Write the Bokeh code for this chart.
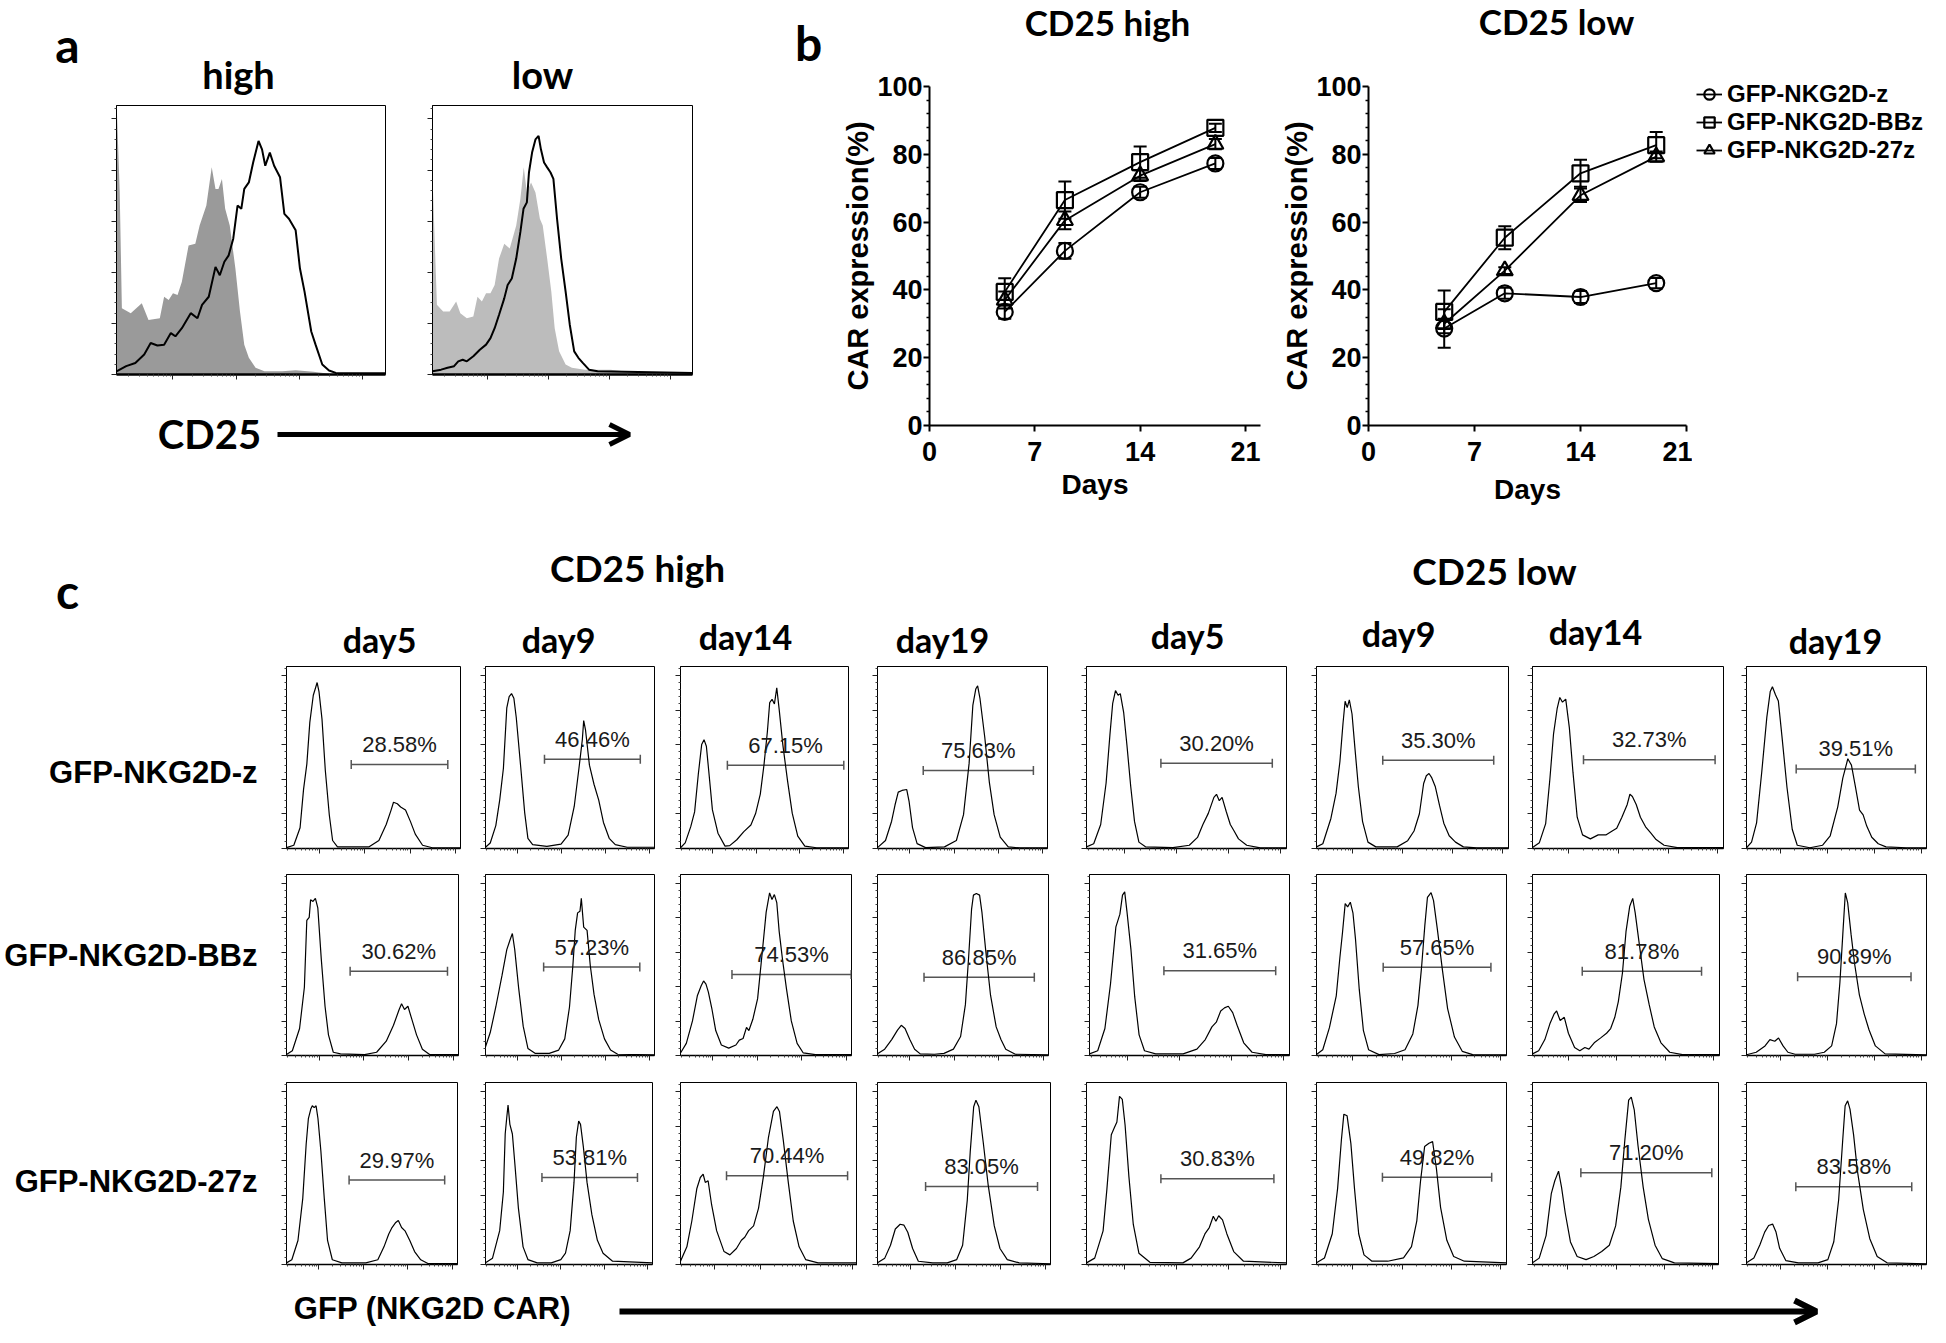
import math
from bokeh.plotting import figure
from bokeh.layouts import row, column, Spacer
from bokeh.models import (Range1d, LinearAxis, FixedTicker, Whisker, TeeHead, Arrow,
                          OpenHead, ColumnDataSource, Legend, LegendItem, CustomLabelingPolicy)
from bokeh.core.properties import value
from bokeh.embed import file_html
from bokeh.resources import INLINE

FONT_ARIAL = "Liberation Sans"
FONT_CAL = "Lato"

# ================= DATA =================
# ---- panel a: CD25 histograms (x: % of axis width, y: % of max count) ----
a_hi_iso_x = [0,0.2,1.2,2.0,5.3,9.4,11.9,16.1,17.7,19.4,21.0,22.7,24.3,26.8,29.3,30.9,33.4,35.4,36.8,37.9,39.2,40.4,42.1,44.2,45.9,47.5,49.2,51.7,55.0,61.6,66.6,73.2,79.8,100]
a_hi_iso_y = [0,96.7,67.7,24.6,22.8,26.5,20.3,20.9,28.9,27.7,30.2,29.6,34.5,48.0,48.6,55.4,62.8,77.0,69.0,69.0,72.7,61.6,55.4,39.4,23.4,11.1,6.2,2.5,1.2,1.2,1.6,1.0,0.2,0]
a_hi_cd25_x = [0,3.6,7.0,10.3,12.7,15.2,17.7,20.2,21.9,24.3,27.6,30.1,31.8,34.3,36.8,38.4,40.1,41.7,43.4,45.0,46.4,47.5,49.2,50.8,52.8,54.1,55.3,57.0,58.6,60.8,62.4,64.1,66.6,68.2,69.9,72.4,74.0,76.5,79.0,81.5,100]
a_hi_cd25_y = [1.2,3.1,4.3,7.4,11.7,10.8,11.1,15.4,14.2,17.2,22.8,20.9,25.9,28.9,40.0,36.9,41.9,44.3,50.5,62.8,61.6,69.0,71.4,78.8,86.8,83.7,77.6,82.5,77.6,73.3,59.7,57.9,53.6,39.4,30.8,16.0,11.1,3.7,1.5,0.6,0.5]
a_lo_iso_x = [0,0.2,1.7,4.1,6.6,9.1,10.7,13.2,15.7,17.3,19.0,20.6,22.3,23.9,25.6,27.6,29.7,32.2,33.8,35.1,36.3,37.9,39.6,41.3,42.4,44.1,45.7,47.0,48.7,51.2,53.6,58.6,63.5,68.5,75.1,100]
a_lo_iso_y = [0,68.3,25.9,23.4,23.4,27.1,22.8,20.9,21.6,28.9,27.1,30.2,30.2,33.3,43.1,48.6,46.8,55.4,65.3,77.0,67.7,71.4,67.7,57.9,55.4,43.1,30.8,17.2,8.6,3.7,2.5,1.8,1.8,1.8,1.0,0]
a_lo_cd25_x = [0,3.3,5.8,8.3,9.9,11.6,13.2,15.7,18.2,20.6,22.3,23.9,25.6,27.6,28.9,30.5,32.2,33.8,35.0,36.3,37.1,38.3,39.6,40.8,41.7,42.9,44.1,45.4,46.5,47.9,49.5,51.2,52.8,54.5,56.1,57.8,60.2,63.5,100]
a_lo_cd25_y = [1.2,1.8,2.5,3.1,4.9,5.5,4.9,6.8,9.2,11.1,13.5,17.2,22.2,28.3,33.3,35.7,43.1,53.0,61.6,64.0,75.1,82.5,87.4,88.7,83.7,78.8,77.0,75.1,72.7,57.9,43.1,30.8,18.5,8.6,6.2,4.3,1.8,1.2,0.6]

# ---- panel b: CAR expression (%) ----
days = [5, 9, 14, 19]
series_names = ["GFP-NKG2D-z", "GFP-NKG2D-BBz", "GFP-NKG2D-27z"]
hi_z = [33.5, 51.5, 68.8, 77.3]
hi_z_err = [2.0, 2.3, 1.6, 1.6]
hi_bbz = [39.4, 66.5, 77.7, 87.8]
hi_bbz_err = [4.0, 5.5, 4.6, 1.2]
hi_27z = [37.0, 60.5, 73.7, 83.0]
hi_27z_err = [2.5, 2.6, 1.6, 1.5]
lo_z = [28.6, 39.0, 37.9, 42.0]
lo_z_err = [5.7, 1.6, 1.8, 1.5]
lo_bbz = [33.5, 55.4, 74.4, 82.7]
lo_bbz_err = [6.3, 3.4, 4.0, 3.9]
lo_27z = [30.0, 45.7, 67.9, 79.3]
lo_27z_err = [1.5, 1.0, 2.0, 1.5]
day_ticks = [0, 7, 14, 21]
pct_ticks = [0, 20, 40, 60, 80, 100]
markers = ["circle", "square", "triangle"]

# ---- panel c: GFP histograms (x: % of axis width, y: % of box height) ----
c_days = ["day5", "day9", "day14", "day19"]
c_rows = ["GFP-NKG2D-z", "GFP-NKG2D-BBz", "GFP-NKG2D-27z"]
# CD25 high, GFP-NKG2D-z
hz5_x = [0,4.2,7.8,9.8,11.7,13.4,15.4,16.8,17.6,18.7,20.4,22.3,24.6,26.5,29.3,47.5,53.1,57.3,60.1,61.5,63.7,65.6,68.4,71.2,74.0,78.2,83.8,100]
hz5_y = [0.5,1.8,11.4,32.5,46.5,69.3,84.2,88.6,91.2,86.0,71.1,43.0,18.4,4.4,0.9,0.9,4.4,13.2,21.1,25.4,24.6,22.8,21.1,14.9,7.9,1.8,0.4,0.4]
hz9_x = [0,2.8,6.1,8.4,10.6,12.6,14.0,15.4,16.8,18.2,20.9,23.2,25.1,27.9,36.3,44.7,48.9,52.5,55.3,57.3,58.1,59.2,61.5,64.2,67.0,69.8,73.2,76.8,83.8,100]
hz9_y = [0.7,3.0,12.6,26.6,44.1,77.3,83.4,85.1,82.5,72.0,44.1,19.6,5.6,2.1,1.2,2.4,7.3,23.1,44.1,59.8,70.3,65.0,45.8,35.3,26.6,14.3,5.6,2.1,0.7,0.7]
hz14_x = [0,2.8,6.1,8.4,10.6,12.6,14.0,15.4,16.8,19.0,22.3,26.5,29.3,33.5,37.7,41.9,44.7,47.5,49.7,51.7,53.1,54.5,55.9,57.3,58.7,60.9,63.7,66.5,69.8,74.0,81.0,100]
hz14_y = [0.4,3.1,12.0,20.1,40.8,57.1,59.8,56.2,42.7,21.2,8.4,1.3,1.6,4.8,9.3,12.9,19.2,29.9,46.0,64.0,80.2,82.0,79.4,88.3,76.7,57.1,37.3,19.4,6.8,1.3,0.4,0.4]
hz19_x = [0,4.7,8.3,10.3,12.2,14.4,17.2,18.6,20.6,23.3,28.3,39.4,46.4,50.6,53.9,56.1,57.8,58.9,60.3,63.1,65.8,68.6,72.2,76.9,83.9,100]
hz19_y = [0.5,4.4,15.0,23.9,31.0,31.9,32.4,25.7,11.5,2.7,0.5,0.9,4.4,18.6,46.9,78.8,87.6,89.4,82.3,61.1,36.3,18.6,6.2,0.9,0.3,0.3]
# CD25 high, GFP-NKG2D-BBz
hb5_x = [0,3.4,7.6,10.4,11.8,13.2,14.0,15.4,16.8,18.2,20.2,22.4,24.4,27.2,31.4,45.4,52.4,58.0,62.2,65.5,66.9,68.6,70.6,72.8,75.6,79.0,83.2,100]
hb5_y = [0.5,2.6,14.9,37.7,74.6,76.3,86.0,85.1,86.8,81.6,53.5,27.2,11.4,1.8,0.9,0.5,1.8,7.9,16.7,25.4,28.6,25.4,27.2,20.2,11.4,3.5,0.5,0.5]
hb9_x = [0,2.8,6.1,9.8,12.6,14.5,15.9,17.3,19.6,22.3,25.1,29.3,37.7,43.3,46.9,49.7,51.7,53.1,54.5,55.9,56.7,58.1,60.1,62.0,64.2,67.0,70.4,74.0,78.2,100]
hb9_y = [4.8,12.7,26.8,44.4,58.5,63.8,67.4,58.5,37.4,16.2,3.9,1.2,1.2,3.0,9.2,26.8,49.7,69.1,78.8,79.7,86.8,70.9,69.1,49.7,33.9,19.8,9.2,3.0,0.7,0.4]
hb14_x = [0,3.4,7.0,9.9,12.1,13.5,14.9,16.3,18.3,20.6,23.9,28.2,32.4,34.4,36.6,38.6,40.0,42.3,45.1,47.9,50.1,52.1,53.5,54.9,56.3,57.7,59.7,62.0,64.8,68.2,71.8,78.9,100]
hb14_y = [1.4,6.7,19.1,33.2,38.5,41.2,39.4,35.0,26.1,13.8,5.8,4.1,5.8,8.5,9.4,15.5,13.8,20.0,31.4,57.9,79.2,89.8,86.2,88.9,84.5,68.6,52.7,36.7,19.1,6.7,1.4,0.5,0.5]
hb19_x = [0,4.2,8.3,11.7,13.9,16.1,18.9,21.7,25.0,33.3,38.9,44.4,48.6,51.4,53.3,55.0,56.1,57.8,59.7,61.1,63.3,66.1,69.4,72.2,75.0,80.6,100]
hb19_y = [0.9,3.5,8.8,14.0,16.7,14.9,8.8,3.5,0.9,0.7,1.2,3.5,10.5,28.1,54.4,80.7,88.6,89.5,88.6,78.9,57.9,33.3,15.8,8.8,3.5,0.7,0.4]
# CD25 high, GFP-NKG2D-27z
ht5_x = [0,3.1,6.7,9.5,11.5,12.8,14.2,15.1,16.2,17.3,18.4,20.1,22.1,24.0,26.8,32.4,46.4,53.4,57.0,59.8,61.7,63.7,65.4,67.3,69.3,72.1,74.9,78.5,82.7,100]
ht5_y = [0.9,2.6,13.2,36.2,66.1,80.2,85.4,87.2,86.2,87.2,80.2,62.4,36.2,13.2,2.6,0.9,0.9,2.6,9.7,16.8,20.3,22.9,24.2,20.3,18.5,13.2,7.1,2.6,0.5,0.5]
ht9_x = [0,4.2,8.5,10.7,11.8,12.7,13.5,14.6,16.1,17.7,19.7,22.5,25.4,31.0,39.4,45.1,47.9,50.7,53.0,54.4,55.8,56.9,58.6,60.8,63.7,67.0,70.4,76.1,100]
ht9_y = [0.9,3.5,18.6,39.8,71.7,80.5,87.6,77.0,71.7,54.0,31.0,9.7,2.7,0.9,0.9,2.7,6.2,18.6,45.1,69.9,78.8,77.0,64.6,45.1,27.4,13.3,6.2,1.8,0.9]
ht14_x = [0,3.6,6.4,9.2,11.2,12.8,14.0,15.6,17.6,20.4,24.6,27.9,31.6,34.4,36.3,38.5,41.3,44.1,46.9,49.7,52.5,54.5,55.9,58.1,60.9,63.7,67.0,70.7,77.7,100]
ht14_y = [1.8,9.7,23.9,41.6,47.8,49.6,45.1,46.0,32.7,18.6,7.1,5.3,8.8,13.3,15.0,18.6,21.2,31.0,48.7,69.9,84.1,86.7,84.1,68.1,45.1,23.9,9.7,2.7,0.9,0.9]
ht19_x = [0,4.2,7.5,10.3,13.1,15.3,17.5,20.3,23.6,31.9,40.3,45.8,49.2,51.9,53.6,55.6,56.9,58.6,61.1,63.9,67.5,70.8,75.0,81.9,100]
ht19_y = [0.9,3.5,10.6,19.5,22.1,21.6,17.7,8.8,1.8,0.9,0.9,2.7,10.6,35.4,61.9,86.7,90.3,86.7,67.3,44.2,21.2,8.8,2.7,0.9,0.4]
# CD25 low, GFP-NKG2D-z
lz5_x = [0,3.6,7.1,9.8,11.7,13.1,14.5,15.8,16.9,18.6,20.2,22.1,24.0,26.2,29.5,43.2,51.4,55.5,58.2,60.9,63.7,65.0,66.4,67.8,69.9,71.9,73.8,76.0,80.1,86.9,100]
lz5_y = [0.9,2.6,13.2,36.0,62.3,79.8,86.8,84.2,85.1,74.6,57.0,34.2,14.9,3.5,0.9,0.5,1.8,6.1,13.2,19.3,28.1,29.8,26.3,28.1,20.2,13.2,9.6,5.3,1.8,0.3,0.3]
lz9_x = [0,3.3,7.5,10.2,12.2,13.8,14.9,16.0,17.1,18.5,19.9,21.8,24.0,26.8,30.9,42.0,47.5,50.8,53.6,55.8,57.2,58.6,59.9,61.9,64.1,66.3,69.1,72.4,76.5,83.4,100]
lz9_y = [0.9,2.6,16.5,30.4,47.8,68.7,80.9,77.4,81.7,73.9,56.5,33.9,14.8,3.5,0.9,0.9,4.3,9.6,19.1,35.7,40.0,41.2,39.1,33.9,23.5,13.9,7.0,3.5,0.9,0.3,0.3]
lz14_x = [0,3.6,6.9,9.1,11.0,12.9,14.3,15.7,17.4,19.3,21.2,23.4,26.2,30.3,34.4,38.6,41.3,44.1,46.8,49.6,51.0,52.3,54.3,56.5,59.2,62.0,64.7,68.9,75.8,100]
lz14_y = [0.5,3.2,13.7,38.2,62.8,76.8,83.0,80.4,82.1,66.3,41.8,17.2,7.5,5.3,7.5,7.5,9.3,11.1,17.2,24.2,29.8,28.6,24.2,17.2,11.9,8.4,4.9,1.8,0.5,0.5]
lz19_x = [0,2.8,5.6,8.5,11.3,13.2,14.4,16.1,17.7,19.7,22.5,25.4,28.2,35.2,42.3,46.5,50.7,53.5,56.3,58.3,60.6,62.8,64.8,66.8,69.6,73.2,77.5,88.7,100]
lz19_y = [0.4,3.5,14.1,42.3,72.2,86.3,88.9,84.5,81.0,61.6,33.5,10.6,1.8,0.4,1.8,7.0,22.9,38.7,49.3,45.8,33.5,21.1,18.5,12.3,6.2,2.6,0.9,0.4,0.4]
# CD25 low, GFP-NKG2D-BBz
lb5_x = [0,4.1,7.7,10.5,13.2,15.2,16.5,17.6,18.7,20.7,22.6,24.8,27.5,33.1,46.8,53.7,57.9,61.2,63.4,65.6,67.5,69.4,71.6,73.8,77.1,81.3,88.2,100]
lb5_y = [0.9,2.6,14.9,39.5,71.1,78.1,88.6,90.4,79.8,58.8,32.5,11.4,2.6,0.9,0.9,3.5,8.8,15.8,18.4,24.6,26.3,27.2,23.7,16.7,7.0,1.8,0.5,0.5]
lb9_x = [0,3.3,6.8,10.4,12.3,13.7,15.1,16.4,17.8,19.2,20.5,22.5,24.7,27.4,32.9,41.1,46.6,50.7,53.4,55.3,57.0,58.4,60.3,61.6,63.6,66.3,69.0,72.6,76.7,82.2,100]
lb9_y = [0.5,3.2,15.4,33.0,54.0,68.1,83.9,82.1,84.7,78.6,64.6,36.5,13.7,3.2,0.5,1.1,3.2,11.9,27.7,48.8,71.6,87.4,90.0,85.6,69.8,47.0,25.9,10.2,2.3,0.5,0.3]
lb14_x = [0,3.3,6.6,9.3,11.5,12.9,14.8,17.0,19.2,22.5,25.3,28.0,30.2,33.0,36.3,39.6,41.8,44.0,45.9,48.1,50.0,52.0,53.6,54.9,56.9,59.6,62.4,65.1,68.7,73.4,80.2,100]
lb14_y = [0.9,2.6,8.8,17.5,22.8,24.6,19.3,21.1,12.3,4.4,2.6,4.4,3.5,7.0,9.6,12.3,14.9,21.1,29.8,45.6,68.4,82.5,86.8,78.9,63.2,42.1,28.1,15.8,7.0,1.8,0.5,0.5]
lb19_x = [0,5.4,10.3,13.0,15.7,17.8,20.3,23.0,27.0,37.8,43.2,47.3,50.0,51.9,53.5,54.9,56.2,58.1,60.0,62.7,65.4,68.1,71.6,77.0,100]
lb19_y = [0.4,1.8,5.3,8.8,7.9,9.7,5.3,1.8,0.7,0.7,1.8,5.3,17.6,40.5,66.9,89.8,84.5,66.9,51.1,33.5,22.9,14.1,5.3,0.9,0.4]
# CD25 low, GFP-NKG2D-27z
lt5_x = [0,4.1,8.3,10.2,12.4,13.8,15.2,16.5,17.9,19.3,21.2,23.4,26.2,31.7,48.2,52.3,56.5,59.2,61.4,63.4,64.7,66.1,68.0,70.2,73.6,78.5,100]
lt5_y = [0.9,3.5,18.5,41.4,71.3,74.8,78.3,92.4,90.7,76.5,48.3,22.0,6.2,1.2,0.9,3.5,9.7,16.8,20.3,26.5,23.8,26.8,24.5,16.8,7.1,1.8,0.9]
lt9_x = [0,4.2,8.3,11.1,13.1,14.4,16.1,18.1,20.0,22.2,25.0,29.2,37.5,45.8,50.0,52.8,54.7,56.9,59.2,61.1,63.1,65.3,68.6,72.2,77.8,100]
lt9_y = [0.9,3.6,16.9,41.7,68.4,82.6,81.7,66.4,41.7,16.9,5.3,1.8,1.8,3.6,9.8,24.0,45.3,64.8,66.6,67.5,52.8,31.4,13.3,4.4,1.8,0.9]
lt14_x = [0,3.6,7.3,10.1,12.0,14.0,15.6,17.6,20.4,24.0,28.8,33.0,37.2,41.3,44.7,47.5,49.7,51.7,53.1,54.7,56.7,59.5,62.3,65.9,69.8,76.3,100]
lt14_y = [0.9,3.5,15.9,38.9,46.0,51.3,42.5,28.3,12.4,4.4,2.7,4.4,7.1,10.6,21.2,42.5,69.0,90.3,92.0,85.0,65.5,42.5,24.8,10.6,3.2,0.9,0.5]
lt19_x = [0,4.1,7.4,10.1,12.3,14.5,16.4,18.4,21.9,28.8,39.7,45.2,48.5,51.2,53.4,54.8,56.2,57.5,59.5,61.6,64.9,68.5,72.6,78.1,100]
lt19_y = [0.9,3.6,10.7,17.8,21.4,22.2,17.8,8.9,2.1,0.9,0.9,2.7,12.5,35.6,67.6,87.2,89.9,85.4,71.2,51.6,30.2,14.2,4.4,0.9,0.4]

# gates: [start %, end %, level %] and gated percentages
gate_hz = [[37.2, 92.7, 46.1], [34.9, 91.6, 49.0], [27.9, 97.2, 45.8], [26.9, 91.7, 42.8]]
gate_hb = [[37.0, 93.6, 46.5], [34.4, 91.3, 48.9], [30.1, 99.8, 44.7], [27.2, 91.7, 43.3]]
gate_ht = [[36.6, 92.5, 46.4], [33.8, 91.0, 47.8], [26.0, 94.4, 48.7], [27.8, 92.5, 42.8]]
gate_lz = [[37.2, 92.9, 46.8], [34.5, 92.3, 48.5], [26.7, 95.6, 48.8], [27.6, 93.8, 43.7]]
gate_lb = [[37.2, 93.1, 46.8], [35.1, 91.8, 48.8], [26.6, 90.4, 46.5], [28.4, 91.4, 43.5]]
gate_lt = [[37.2, 93.7, 47.1], [34.7, 92.2, 48.0], [26.0, 96.4, 50.4], [27.4, 91.8, 42.7]]
pct_hz = ["28.58%", "46.46%", "67.15%", "75.63%"]
pct_hb = ["30.62%", "57.23%", "74.53%", "86.85%"]
pct_ht = ["29.97%", "53.81%", "70.44%", "83.05%"]
pct_lz = ["30.20%", "35.30%", "32.73%", "39.51%"]
pct_lb = ["31.65%", "57.65%", "81.78%", "90.89%"]
pct_lt = ["30.83%", "49.82%", "71.20%", "83.58%"]

# ================= LAYOUT (reference pixel coords; page origin at 8,8) =================
NO_LABELS = CustomLabelingPolicy(code="for (const i of indices) indices.unset(i); return indices")


def kill_grid(p):
    p.xgrid.visible = False
    p.ygrid.visible = False


def canvas(x0, y0, x1, y1):
    p = figure(width=x1 - x0, height=y1 - y0, x_range=Range1d(x0, x1), y_range=Range1d(y1, y0),
               toolbar_location=None, output_backend="svg", title=None,
               x_axis_location=None, y_axis_location=None, min_border=0)
    p.outline_line_color = None
    kill_grid(p)
    return p


def txt(p, x, y, s, size, font=FONT_CAL, bold=True, align="center", color="black"):
    p.text(x=[x], y=[y], text=[s], text_font=value(font), text_font_size=f"{size}px",
           text_font_style="bold" if bold else "normal", text_align=align,
           text_baseline="middle", text_color=color)


def log_minor(majors, width):
    out = []
    for m in majors:
        s = m - width
        for k in range(2, 10):
            t = s + width * math.log10(k)
            if 0.3 < t < 99.7:
                out.append(t)
    return out


def hist_fig(cell, frame, xmaj, xwidth, ymaj, axis_w=1.5, tick_out=5):
    cx0, cy0, cx1, cy1 = cell
    fx0, fy0, fx1, fy1 = frame
    p = figure(width=cx1 - cx0, height=cy1 - cy0, x_range=Range1d(0, 100), y_range=Range1d(0, 100),
               toolbar_location=None, output_backend="svg", title=None,
               x_axis_location=None, y_axis_location=None,
               min_border_left=fx0 - cx0, min_border_right=cx1 - fx1,
               min_border_top=fy0 - cy0, min_border_bottom=cy1 - fy1)
    kill_grid(p)
    ystep = ymaj[1] - ymaj[0]
    ymin = [a + ystep * i / 5 for a in ymaj for i in range(1, 5) if a + ystep * i / 5 < 100]
    xa = LinearAxis(ticker=FixedTicker(ticks=xmaj, minor_ticks=log_minor(xmaj, xwidth)))
    ya = LinearAxis(ticker=FixedTicker(ticks=ymaj, minor_ticks=ymin))
    for ax in (xa, ya):
        ax.major_label_policy = NO_LABELS
        ax.major_label_standoff = 0
        ax.major_tick_in = 0
        ax.minor_tick_in = 0
        ax.major_tick_out = tick_out
        ax.minor_tick_out = 2
        ax.axis_line_color = "black"
        ax.major_tick_line_color = "#222222"
        ax.minor_tick_line_color = "#444444"
    xa.axis_line_width = axis_w
    ya.axis_line_width = 1
    p.add_layout(xa, "below")
    p.add_layout(ya, "left")
    p.outline_line_color = "black"
    p.outline_line_width = 1
    return p


# ---------- Panel a ----------
A_top = canvas(8, 8, 712, 109)
txt(A_top, 75, 52, "a", 48)
txt(A_top, 246, 81, "high", 38)
txt(A_top, 550, 81, "low", 38)

HYMAJ = [0, 19, 38, 57, 76, 95]
A_hi = hist_fig((8, 109, 420, 400), (124, 113, 393, 382), [21, 44.5, 68, 91.5], 23.5, HYMAJ, axis_w=2.5)
A_hi.varea(x=a_hi_iso_x, y1=0, y2=a_hi_iso_y, fill_color="#9a9a9a")
A_hi.line(a_hi_cd25_x, a_hi_cd25_y, line_color="black", line_width=2)
A_lo = hist_fig((420, 109, 712, 400), (430, 113, 700, 382), [21, 44.5, 68, 91.5], 23.5, HYMAJ, axis_w=2.5)
A_lo.varea(x=a_lo_iso_x, y1=0, y2=a_lo_iso_y, fill_color="#bcbcbc")
A_lo.line(a_lo_cd25_x, a_lo_cd25_y, line_color="black", line_width=2)

A_bot = canvas(8, 400, 712, 520)
txt(A_bot, 217, 441, "CD25", 40)
A_bot.add_layout(Arrow(end=OpenHead(size=20, line_width=5, line_color="black"),
                       x_start=285, y_start=442, x_end=637, y_end=442,
                       line_width=5, line_color="black"))
colA = column(A_top, row(A_hi, A_lo), A_bot)

# ---------- Panel b ----------
B_strip = canvas(712, 8, 840, 520)
txt(B_strip, 816, 50, "b", 48)
B_top = canvas(840, 8, 1938, 50)
txt(B_top, 1115, 29, "CD25 high", 35)
txt(B_top, 1564, 28, "CD25 low", 35)


def line_chart(cell, frame, xmax, data, lab_standoff, x_lab_standoff):
    cx0, cy0, cx1, cy1 = cell
    fx0, fy0, fx1, fy1 = frame
    p = figure(width=cx1 - cx0, height=cy1 - cy0, x_range=Range1d(0, xmax), y_range=Range1d(0, 100),
               toolbar_location=None, output_backend="svg", title=None,
               x_axis_location=None, y_axis_location=None,
               min_border_left=fx0 - cx0, min_border_right=cx1 - fx1,
               min_border_top=fy0 - cy0, min_border_bottom=cy1 - fy1)
    kill_grid(p)
    xa = LinearAxis(ticker=FixedTicker(ticks=day_ticks, minor_ticks=[]), axis_label="Days")
    ya = LinearAxis(ticker=FixedTicker(ticks=pct_ticks,
                                       minor_ticks=[t + d for t in pct_ticks[:-1] for d in (4, 8, 12, 16)]),
                    axis_label="CAR expression(%)")
    for ax in (xa, ya):
        ax.axis_line_width = 2
        ax.axis_line_color = "black"
        ax.major_tick_line_width = 2
        ax.major_tick_in = 0
        ax.major_tick_out = 6
        ax.minor_tick_in = 0
        ax.minor_tick_out = 3
        ax.minor_tick_line_width = 1.5
        ax.major_label_text_font = FONT_ARIAL
        ax.major_label_text_font_style = "bold"
        ax.major_label_text_font_size = "27px"
        ax.major_label_text_color = "black"
        ax.axis_label_text_font = FONT_ARIAL
        ax.axis_label_text_font_style = "bold"
        ax.axis_label_text_font_size = "28px"
        ax.axis_label_text_color = "black"
    ya.axis_label_text_font_size = "29px"
    ya.major_label_standoff = 1
    xa.major_label_standoff = 10
    ya.axis_label_standoff = lab_standoff
    xa.axis_label_standoff = x_lab_standoff
    p.add_layout(xa, "below")
    p.add_layout(ya, "left")
    p.outline_line_color = None
    rends = []
    for vals, errs, marker in data:
        src = ColumnDataSource(dict(x=days, y=vals,
                                    upper=[v + e for v, e in zip(vals, errs)],
                                    lower=[v - e for v, e in zip(vals, errs)]))
        p.add_layout(Whisker(source=src, base="x", upper="upper", lower="lower",
                             line_width=2, line_color="black",
                             upper_head=TeeHead(size=13, line_width=2, line_color="black"),
                             lower_head=TeeHead(size=13, line_width=2, line_color="black")))
        lr = p.line("x", "y", source=src, line_color="black", line_width=1.8)
        sr = p.scatter("x", "y", source=src, marker=marker, size=16, line_color="black",
                       line_width=2.2, fill_alpha=0)
        rends.append((lr, sr))
    return p, rends


B_left, _ = line_chart((840, 50, 1282, 520), (937, 66, 1268, 433), 22,
                       [(hi_z, hi_z_err, markers[0]), (hi_bbz, hi_bbz_err, markers[1]),
                        (hi_27z, hi_27z_err, markers[2])], 0, 5)
B_right, _ = line_chart((1282, 50, 1700, 520), (1376, 94, 1694, 436), 21,
                        [(lo_z, lo_z_err, markers[0]), (lo_bbz, lo_bbz_err, markers[1]),
                         (lo_27z, lo_27z_err, markers[2])], 0, 10)

# legend area to the right of the CD25-low chart
B_leg = canvas(1700, 84, 1938, 520)
leg_items = []
for name, vals, mk in zip(series_names, [lo_z, lo_bbz, lo_27z], markers):
    lr = B_leg.line(days, vals, line_color="black", line_width=1.8)
    sr = B_leg.scatter(days, vals, marker=mk, size=16, line_color="black", line_width=2.2, fill_alpha=0)
    leg_items.append(LegendItem(label=name, renderers=[lr, sr]))
legend = Legend(items=leg_items, location="top_left", label_text_font=FONT_ARIAL,
                label_text_font_style="bold", label_text_font_size="24px", label_text_color="black",
                glyph_width=26, glyph_height=26, label_height=24, spacing=0, padding=0, margin=4,
                border_line_color=None, background_fill_alpha=0, label_standoff=5)
B_leg.add_layout(legend)
colB = column(B_top, row(B_left, B_right, column(Spacer(width=238, height=34), B_leg)))

top = row(colA, B_strip, colB)

# ---------- Panel c ----------
C_head = canvas(8, 520, 1938, 672)
txt(C_head, 75, 598, "c", 48)
txt(C_head, 645, 575, "CD25 high", 37)
txt(C_head, 1502, 578, "CD25 low", 37)
day_pos = [(387, 647), (566, 647), (753, 644), (950, 647),
           (1195, 643), (1406, 641), (1603, 639), (1843, 648)]
for i, (x, y) in enumerate(day_pos):
    txt(C_head, x, y, c_days[i % 4], 34)

C_COLS = [(274, 473), (473, 668), (668, 865), (865, 1074), (1074, 1304), (1304, 1520), (1520, 1734), (1734, 1938)]
C_ROWS = [(672, 872), (872, 1080), (1080, 1288)]
C_FRAMES = [
    [(285, 673, 468, 862), (479, 674, 662, 864), (673, 674, 856, 859), (871, 674, 1055, 862),
     (1092, 673, 1294, 858), (1316, 673, 1516, 858), (1530, 673, 1731, 859), (1746, 673, 1934, 860)],
    [(284, 882, 466, 1072), (479, 882, 662, 1071), (678, 881, 859, 1069), (872, 873, 1056, 1063),
     (1097, 875, 1297, 1065), (1312, 873, 1514, 1063), (1526, 873, 1727, 1063), (1737, 881, 1934, 1070)],
    [(282, 1089, 465, 1278), (479, 1090, 660, 1278), (684, 1090, 867, 1278), (875, 1088, 1058, 1277),
     (1094, 1083, 1294, 1272), (1315, 1084, 1514, 1272), (1529, 1085, 1726, 1273), (1740, 1089, 1934, 1277)],
]
LABEL_Y = [789, 965, 1193]

curves = [
    [(hz5_x, hz5_y), (hz9_x, hz9_y), (hz14_x, hz14_y), (hz19_x, hz19_y),
     (lz5_x, lz5_y), (lz9_x, lz9_y), (lz14_x, lz14_y), (lz19_x, lz19_y)],
    [(hb5_x, hb5_y), (hb9_x, hb9_y), (hb14_x, hb14_y), (hb19_x, hb19_y),
     (lb5_x, lb5_y), (lb9_x, lb9_y), (lb14_x, lb14_y), (lb19_x, lb19_y)],
    [(ht5_x, ht5_y), (ht9_x, ht9_y), (ht14_x, ht14_y), (ht19_x, ht19_y),
     (lt5_x, lt5_y), (lt9_x, lt9_y), (lt14_x, lt14_y), (lt19_x, lt19_y)],
]
gates = [gate_hz + gate_lz, gate_hb + gate_lb, gate_ht + gate_lt]
pcts = [pct_hz + pct_lz, pct_hb + pct_lb, pct_ht + pct_lt]

c_rows_layout = []
for r in range(3):
    ry0, ry1 = C_ROWS[r]
    lab = canvas(8, ry0, 274, ry1)
    txt(lab, 265, LABEL_Y[r], c_rows[r], 31, font=FONT_ARIAL, align="right")
    figs = [lab]
    for c in range(8):
        cx0, cx1 = C_COLS[c]
        p = hist_fig((cx0, ry0, cx1, ry1), C_FRAMES[r][c], [19, 45, 71, 97], 26, HYMAJ)
        xs, ys = curves[r][c]
        p.line(xs, ys, line_color="black", line_width=1.2)
        g0, g1, gy = gates[r][c]
        gsrc = ColumnDataSource(dict(base=[gy], lower=[g0], upper=[g1]))
        p.add_layout(Whisker(source=gsrc, base="base", lower="lower", upper="upper", dimension="width",
                             line_color="#555555", line_width=1.5,
                             lower_head=TeeHead(size=9, line_color="#555555", line_width=1.5),
                             upper_head=TeeHead(size=9, line_color="#555555", line_width=1.5)))
        p.text(x=[(g0 + g1) / 2], y=[gy + 11], text=[pcts[r][c]], text_font=value(FONT_ARIAL),
               text_font_size="22px", text_align="center", text_baseline="middle", text_color="#1a1a1a")
        figs.append(p)
    c_rows_layout.append(row(*figs))

C_foot = canvas(8, 1288, 1938, 1335)
txt(C_foot, 440, 1316, "GFP (NKG2D CAR)", 31, font=FONT_ARIAL)
C_foot.add_layout(Arrow(end=OpenHead(size=22, line_width=6, line_color="black"),
                        x_start=627, y_start=1319, x_end=1824, y_end=1319,
                        line_width=6, line_color="black"))

page = column(top, C_head, *c_rows_layout, C_foot)

open("out.html", "w").write(file_html(page, INLINE))
